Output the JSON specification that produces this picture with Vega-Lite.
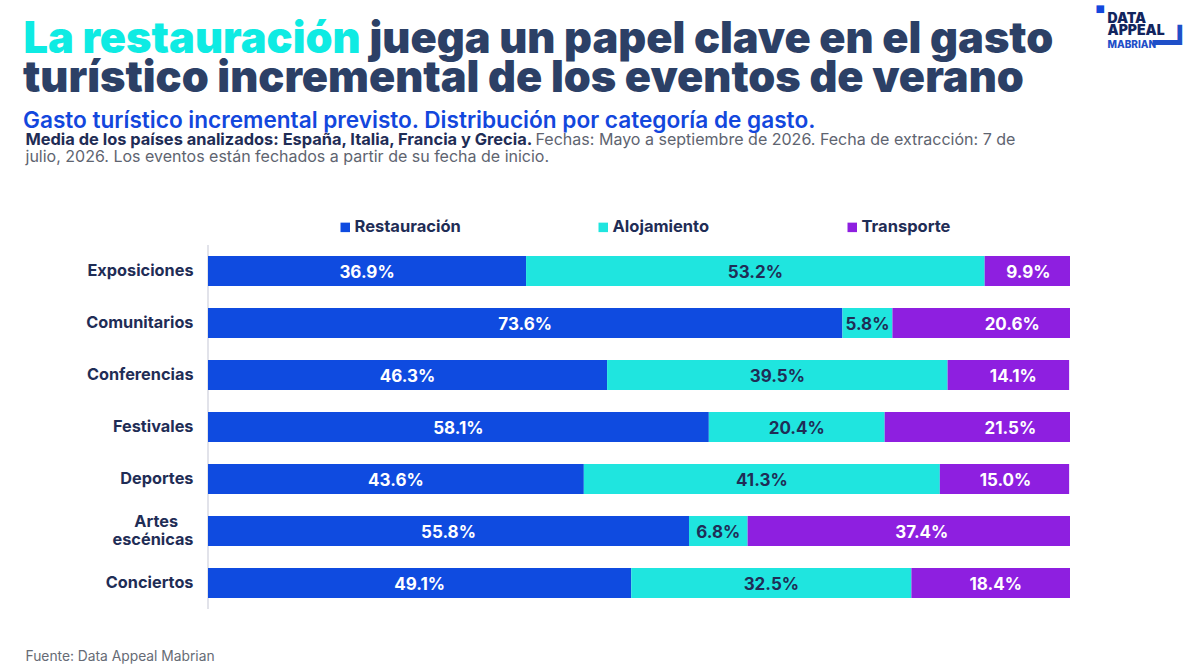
{
  "$schema": "https://vega.github.io/schema/vega-lite/v6.json",
  "width": 862,
  "height": 364,
  "autosize": {"type": "none"},
  "padding": {"left": 208, "top": 245, "right": 130, "bottom": 56},
  "background": "white",
  "title": {
    "text": "turístico incremental de los eventos de verano",
    "subtitle": "Gasto turístico incremental previsto. Distribución por categoría de gasto.",
    "anchor": "start",
    "frame": "group",
    "dx": -185,
    "offset": -131,
    "font": "Inter",
    "fontSize": 43.3,
    "fontWeight": 900,
    "color": "#2C4066",
    "subtitleFont": "Inter",
    "subtitleFontSize": 22.6,
    "subtitleFontWeight": 600,
    "subtitleColor": "#1347DD",
    "subtitlePadding": 9
  },
  "data": {
    "values": [
      {"categoria": "Exposiciones", "serie": "Restauración", "orden": 1, "valor": 0.369},
      {"categoria": "Exposiciones", "serie": "Alojamiento", "orden": 2, "valor": 0.532},
      {"categoria": "Exposiciones", "serie": "Transporte", "orden": 3, "valor": 0.099},
      {"categoria": "Comunitarios", "serie": "Restauración", "orden": 1, "valor": 0.736},
      {"categoria": "Comunitarios", "serie": "Alojamiento", "orden": 2, "valor": 0.058},
      {"categoria": "Comunitarios", "serie": "Transporte", "orden": 3, "valor": 0.206},
      {"categoria": "Conferencias", "serie": "Restauración", "orden": 1, "valor": 0.463},
      {"categoria": "Conferencias", "serie": "Alojamiento", "orden": 2, "valor": 0.395},
      {"categoria": "Conferencias", "serie": "Transporte", "orden": 3, "valor": 0.141},
      {"categoria": "Festivales", "serie": "Restauración", "orden": 1, "valor": 0.581},
      {"categoria": "Festivales", "serie": "Alojamiento", "orden": 2, "valor": 0.204},
      {"categoria": "Festivales", "serie": "Transporte", "orden": 3, "valor": 0.215},
      {"categoria": "Deportes", "serie": "Restauración", "orden": 1, "valor": 0.436},
      {"categoria": "Deportes", "serie": "Alojamiento", "orden": 2, "valor": 0.413},
      {"categoria": "Deportes", "serie": "Transporte", "orden": 3, "valor": 0.15},
      {"categoria": "Artes escénicas", "serie": "Restauración", "orden": 1, "valor": 0.558},
      {"categoria": "Artes escénicas", "serie": "Alojamiento", "orden": 2, "valor": 0.068},
      {"categoria": "Artes escénicas", "serie": "Transporte", "orden": 3, "valor": 0.374},
      {"categoria": "Conciertos", "serie": "Restauración", "orden": 1, "valor": 0.491},
      {"categoria": "Conciertos", "serie": "Alojamiento", "orden": 2, "valor": 0.325},
      {"categoria": "Conciertos", "serie": "Transporte", "orden": 3, "valor": 0.184}
    ]
  },
  "config": {
    "view": {"stroke": null},
    "axis": {"grid": false, "ticks": false, "labels": false, "domain": false, "titleLimit": 1200, "titleAlign": "left", "titleAngle": 0, "titleBaseline": "alphabetic", "titleFont": "Inter"}
  },
  "resolve": {"axis": {"x": "independent", "y": "independent"}},
  "layer": [
    {
      "mark": {"type": "tick", "size": 52, "thickness": 1, "color": "#DDE0E8", "opacity": 1},
      "encoding": {
        "x": {"datum": 0, "type": "quantitative", "scale": {"domain": [0, 1]},
          "axis": {"orient": "top", "title": "juega un papel clave en el gasto", "titleX": 161, "titleY": -193, "titleFontSize": 43.3, "titleFontWeight": 900, "titleColor": "#2C4066"}},
        "y": {"field": "categoria", "type": "nominal", "sort": ["Exposiciones", "Comunitarios", "Conferencias", "Festivales", "Deportes", "Artes escénicas", "Conciertos"],
          "scale": {"paddingInner": 0.42, "paddingOuter": 0.21},
          "axis": {"orient": "left", "title": "La restauración", "titleX": -185, "titleY": -193, "titleFontSize": 43.3, "titleFontWeight": 900, "titleColor": "#0EEBE3"}}
      }
    },
    {
      "mark": {"type": "bar", "size": 30},
      "encoding": {
        "x": {"field": "valor", "type": "quantitative", "stack": "zero",
          "axis": {"orient": "top", "title": "Fuente: Data Appeal Mabrian", "titleX": -183, "titleY": 415, "titleFontSize": 13.8, "titleFontWeight": 400, "titleColor": "#666B75"}},
        "y": {"field": "categoria", "type": "nominal", "sort": ["Exposiciones", "Comunitarios", "Conferencias", "Festivales", "Deportes", "Artes escénicas", "Conciertos"],
          "axis": {"orient": "left", "labels": true, "labelFont": "Inter", "labelFontSize": 16.3, "labelFontWeight": 700, "labelColor": "#1F2D56", "labelPadding": 15, "labelLineHeight": 18,
            "labelOffset": {"expr": "datum.label == 'Artes escénicas' ? -9 : 0"},
            "labelExpr": "datum.label == 'Artes escénicas' ? ['Artes\u00a0\u00a0\u00a0\u00a0\u200b', 'escénicas'] : datum.label",
            "title": "Fechas: Mayo a septiembre de 2026. Fecha de extracción: 7 de", "titleX": 327, "titleY": -101, "titleFontSize": 16.05, "titleFontWeight": 400, "titleColor": "#5E6470"}},
        "order": {"field": "orden"},
        "color": {"field": "serie", "type": "nominal",
          "scale": {"domain": ["Restauración", "Alojamiento", "Transporte"], "range": ["#0F4BE0", "#1FE5DF", "#8E1FE0"]},
          "legend": {"orient": "none", "legendX": 129, "legendY": -26, "direction": "horizontal", "columns": 3, "columnPadding": 134, "title": null, "symbolType": "square", "symbolSize": 90, "symbolStrokeWidth": 0, "labelFont": "Inter", "labelFontSize": 16.5, "labelFontWeight": 700, "labelColor": "#1F2D56", "labelOffset": 1}}
      }
    },
    {
      "mark": {"type": "text", "font": "Inter", "fontSize": 17, "fontWeight": 700, "color": "white", "dy": 2},
      "encoding": {
        "x": {"field": "valor", "type": "quantitative", "stack": "zero", "bandPosition": 0.5,
          "axis": {"orient": "top", "title": "Media de los países analizados: España, Italia, Francia y Grecia.", "titleX": -183, "titleY": -101, "titleFontSize": 16.4, "titleFontWeight": 700, "titleColor": "#1F2D56"}},
        "y": {"field": "categoria", "type": "nominal", "sort": ["Exposiciones", "Comunitarios", "Conferencias", "Festivales", "Deportes", "Artes escénicas", "Conciertos"],
          "axis": {"orient": "left", "title": "julio, 2026. Los eventos están fechados a partir de su fecha de inicio.", "titleX": -183, "titleY": -84, "titleFontSize": 16, "titleFontWeight": 400, "titleColor": "#5E6470"}},
        "order": {"field": "orden"},
        "text": {"condition": {"test": "datum.serie == 'Restauración'", "field": "valor", "type": "quantitative", "format": ".1%"}, "value": ""}
      }
    },
    {
      "mark": {"type": "text", "font": "Inter", "fontSize": 17, "fontWeight": 700, "color": "#1F2D56", "dy": 2},
      "encoding": {
        "x": {"field": "valor", "type": "quantitative", "stack": "zero", "bandPosition": 0.5,
          "axis": {"orient": "top", "title": ["DATA", "APPEAL"], "titleX": 899, "titleY": -223, "titleFontSize": 14, "titleFontWeight": 900, "titleLineHeight": 12, "titleColor": "#12255E"}},
        "y": {"field": "categoria", "type": "nominal", "sort": ["Exposiciones", "Comunitarios", "Conferencias", "Festivales", "Deportes", "Artes escénicas", "Conciertos"],
          "axis": {"orient": "left", "title": "MABRIAN", "titleX": 899, "titleY": -198, "titleFontSize": 10, "titleFontWeight": 800, "titleColor": "#1F4FC8"}},
        "order": {"field": "orden"},
        "text": {"condition": {"test": "datum.serie == 'Alojamiento'", "field": "valor", "type": "quantitative", "format": ".1%"}, "value": ""}
      }
    },
    {
      "mark": {"type": "text", "font": "Inter", "fontSize": 17, "fontWeight": 700, "color": "white", "dy": 2,
        "dx": {"expr": "({'Comunitarios': 31, 'Conferencias': 5, 'Festivales': 33, 'Deportes': 1, 'Artes escénicas': 13, 'Conciertos': 5, 'Exposiciones': 1})[datum.categoria]"}},
      "encoding": {
        "x": {"field": "valor", "type": "quantitative", "stack": "zero", "bandPosition": 0.5,
          "axis": {"orient": "top", "title": "■", "titleX": 887, "titleY": -234, "titleFont": "DejaVu Sans", "titleFontSize": 10, "titleColor": "#1347DD"}},
        "y": {"field": "categoria", "type": "nominal", "sort": ["Exposiciones", "Comunitarios", "Conferencias", "Festivales", "Deportes", "Artes escénicas", "Conciertos"],
          "axis": {"orient": "left", "title": "━┛", "titleX": 944, "titleY": -193, "titleFont": "DejaVu Sans", "titleFontSize": 30, "titleColor": "#1F4FC8"}},
        "order": {"field": "orden"},
        "text": {"condition": {"test": "datum.serie == 'Transporte'", "field": "valor", "type": "quantitative", "format": ".1%"}, "value": ""}
      }
    }
  ]
}
